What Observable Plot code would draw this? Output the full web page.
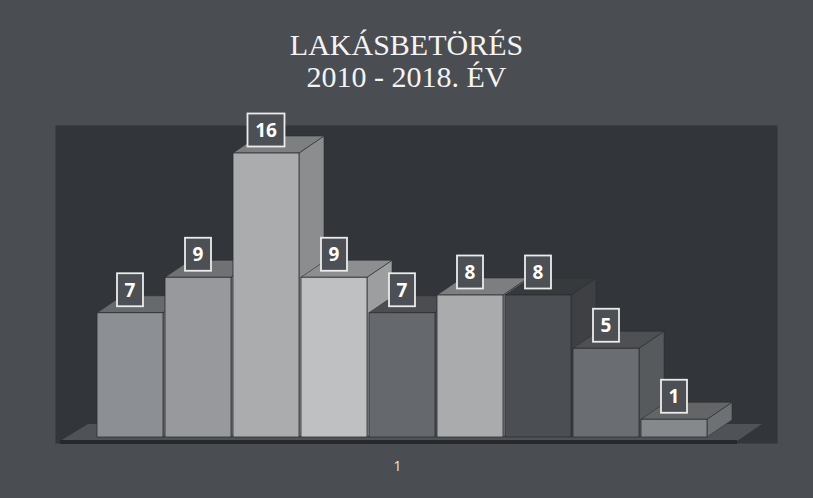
<!DOCTYPE html>
<html>
<head>
<meta charset="utf-8">
<script src="https://cdn.jsdelivr.net/npm/d3@7"></script>
<script src="https://cdn.jsdelivr.net/npm/@observablehq/plot@0.6"></script>
<style>
  html, body { margin: 0; padding: 0; background: #4a4d52; }
  #wrap { position: relative; width: 813px; height: 498px; overflow: hidden; background: #4a4d52; }
  #title { position: absolute; left: 0; top: 0; width: 813px; height: 110px;
           font-family: "Liberation Serif", "Times New Roman", serif; color: #f4f4f4;
           text-align: center; font-size: 30px; }
  #title div { position: absolute; left: 0; right: 0; line-height: 34px; white-space: nowrap; }
  #chart { position: absolute; left: 0; top: 110px; }
</style>
</head>
<body>
<div id="wrap">
  <div id="title"></div>
  <div id="chart"></div>
</div>
<script>
// ---- data ----
const years = ["2010", "2011", "2012", "2013", "2014", "2015", "2016", "2017", "2018"];
const values = [7, 9, 16, 9, 7, 8, 8, 5, 1];
const categories = ["1"];
const titleLines = ["LAKÁSBETÖRÉS", "2010 - 2018. ÉV"];
const barColors = ["#8c8f93", "#97999c", "#aaacae", "#bec0c2", "#65686c", "#a9abad", "#4b4e52", "#6a6d71", "#86898c"];

const data = years.map((year, i) => ({year, value: values[i]}));

// ---- title ----
const titleEl = document.getElementById("title");
titleLines.forEach((t, k) => {
  const d = document.createElement("div");
  d.textContent = t;
  d.style.top = (28 + k * 32) + "px";
  titleEl.appendChild(d);
});

// ---- 3D helpers ----
const DX = 25, DY = -17;
const bandw = (s) => (typeof s.bandwidth === "function" ? s.bandwidth() : s.bandwidth);
const pts = (arr) => arr.map((p) => p.join(",")).join(" ");

const bars = Plot.barY(data, {
  x: "year", y: "value", fill: "year",
  render(index, scales) {
    const sx = scales.x, sy = scales.y, w = bandw(sx);
    const g = d3.create("svg:g");
    const yb = sy(0);
    for (const i of index) {
      const d = data[i];
      const x0 = sx(d.year), x1 = x0 + w, yt = sy(d.value);
      const c = d3.color(scales.color ? scales.color(d.year) : barColors[i]);
      g.append("polygon")
        .attr("points", pts([[x1, yt], [x1 + DX, yt + DY], [x1 + DX, yb + DY], [x1, yb]]))
        .attr("fill", c.darker(0.55).formatHex())
        .attr("stroke", "#2c2e32").attr("stroke-width", 0.6);
      g.append("polygon")
        .attr("points", pts([[x0, yt], [x0 + DX, yt + DY], [x1 + DX, yt + DY], [x1, yt]]))
        .attr("fill", c.darker(0.85).formatHex())
        .attr("stroke", "#2c2e32").attr("stroke-width", 0.6);
      g.append("rect")
        .attr("x", x0).attr("y", yt).attr("width", w).attr("height", yb - yt)
        .attr("fill", c.formatHex())
        .attr("stroke", "#2c2e32").attr("stroke-width", 0.8);
    }
    return g.node();
  }
});

// floor under bars
const floor = Plot.ruleY([0], {
  render(index, scales) {
    const [r0, r1] = scales.x.range();
    const y0 = scales.y(0);
    const L = r0 - 34, R = r1 + 27, yf = y0 + 4;
    const g = d3.create("svg:g");
    g.append("polygon")
      .attr("points", pts([[L, yf], [L + DX + 3, yf + DY], [R + DX, yf + DY], [R, yf]]))
      .attr("fill", "#4f5256");
    g.append("rect").attr("x", L).attr("y", yf - 1).attr("width", R - L).attr("height", 4)
      .attr("fill", "#26282c");
    return g.node();
  }
});

// value labels with boxes
const labels = Plot.text(data, {
  x: "year", y: "value", text: "value",
  render(index, scales) {
    const sx = scales.x, sy = scales.y, w = bandw(sx);
    const g = d3.create("svg:g");
    for (const i of index) {
      const d = data[i];
      const cx = sx(d.year) + w / 2;
      const cy = sy(d.value) - 23;
      const s = String(d.value);
      const bwid = 15 + 11 * s.length, bh = 33;
      g.append("rect")
        .attr("x", cx - bwid / 2).attr("y", cy - bh / 2)
        .attr("width", bwid).attr("height", bh)
        .attr("fill", "#4c4f53").attr("stroke", "#ececec").attr("stroke-width", 1.8);
      g.append("text")
        .attr("x", cx).attr("y", cy)
        .attr("text-anchor", "middle").attr("dominant-baseline", "central")
        .attr("font-family", "'Open Sans', sans-serif").attr("font-weight", "bold")
        .attr("font-size", 19).attr("fill", "#ffffff")
        .text(s);
    }
    return g.node();
  }
});

const chart = Plot.plot({
  width: 813,
  height: 388,
  marginLeft: 94,
  marginRight: 103,
  marginTop: 43,
  marginBottom: 61,
  axis: null,
  style: {background: "transparent", overflow: "visible"},
  x: {type: "band", domain: years, paddingInner: 0.03, paddingOuter: 0},
  y: {domain: [0, 16]},
  color: {domain: years, range: barColors},
  marks: [
    Plot.frame({fill: "#323539", insetLeft: -39, insetRight: -67, insetTop: -28, insetBottom: -6}),
    floor,
    bars,
    labels,
    Plot.text(categories, {frameAnchor: "bottom", text: (d) => d, dy: 33, dx: -5,
      fill: "#e6e6e6", fontSize: 14, fontFamily: "'Open Sans', sans-serif"})
  ]
});
document.getElementById("chart").appendChild(chart);
</script>
</body>
</html>
